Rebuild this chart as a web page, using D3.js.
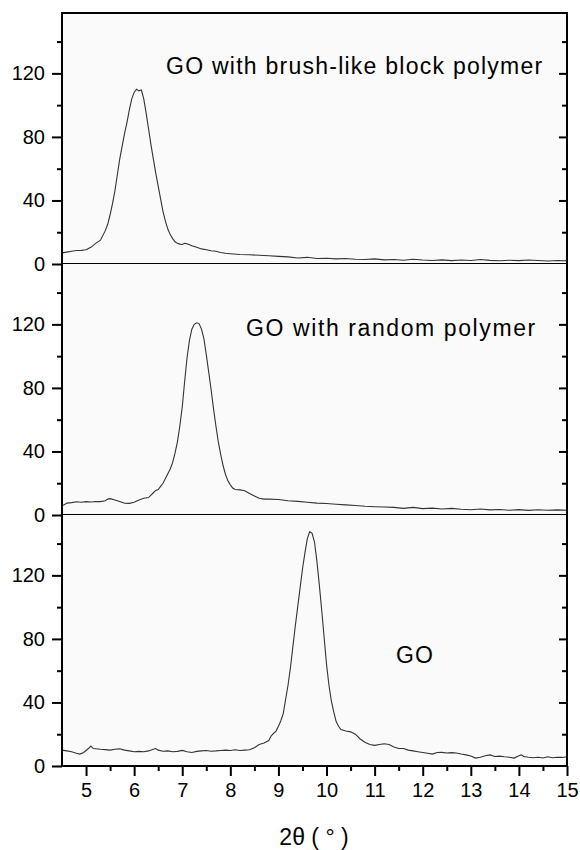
<!DOCTYPE html>
<html>
<head>
<meta charset="utf-8">
<script src="https://cdn.jsdelivr.net/npm/d3@7"></script>
<style>
html,body{margin:0;padding:0;background:#fff;}
svg{display:block;}
</style>
</head>
<body>
<svg id="chart" width="580" height="850"></svg>
<script>
// ---------- DATA ----------
const panelLabels = ["GO with brush-like block polymer", "GO with random polymer", "GO"];
const yMajorTicks = [0, 40, 80, 120];
const yMinorTicks = [20, 60, 100, 140];
const xMajorTicks = [5, 6, 7, 8, 9, 10, 11, 12, 13, 14, 15];
const xMinorTicks = [5.5, 6.5, 7.5, 8.5, 9.5, 10.5, 11.5, 12.5, 13.5, 14.5];
const xTitle = "2θ ( ° )";

const xBrush = [4.5,4.6,4.7,4.8,4.9,5.0,5.1,5.2,5.3,5.4,5.45,5.5,5.55,5.6,5.65,5.7,5.75,5.8,5.85,5.9,5.95,6.0,6.05,6.1,6.15,6.2,6.25,6.3,6.35,6.4,6.45,6.5,6.55,6.6,6.65,6.7,6.75,6.8,6.85,6.9,6.95,7.0,7.05,7.1,7.2,7.3,7.4,7.5,7.6,7.7,7.8,7.9,8.0,8.2,8.4,8.6,8.8,9.0,9.2,9.4,9.6,9.8,10.0,10.2,10.4,10.6,10.8,11.0,11.2,11.4,11.6,11.8,12.0,12.2,12.4,12.6,12.8,13.0,13.2,13.4,13.6,13.8,14.0,14.2,14.4,14.6,14.8,15.0];
const yBrush = [7,7.5,8,8.5,8.6,9,10.5,13,15,21,25,31,38,46,56,66,74,82,89,97,104,108,110,109,109.5,104,95,85,75,66,57,49,41,33,27,22,18.5,16,14,13,12.5,12.3,13,12.8,11.5,10.5,9.5,9,8.3,8,7.2,6.8,6.5,6,5.8,5.5,5.2,4.8,4.5,3.8,4.2,3.5,3.6,3.2,3.5,3,2.8,3.2,2.6,2.8,2.4,3,2.5,2.2,2.6,2.1,2.5,2.2,2.8,2.3,2,2.4,2.1,2.5,2.2,1.9,2.2,2];

const xRandom = [4.5,4.55,4.6,4.7,4.8,4.9,5.0,5.1,5.2,5.3,5.4,5.45,5.5,5.6,5.7,5.8,5.9,6.0,6.1,6.2,6.3,6.35,6.4,6.45,6.5,6.55,6.6,6.65,6.7,6.75,6.8,6.85,6.9,6.95,7.0,7.05,7.1,7.15,7.2,7.25,7.3,7.35,7.4,7.45,7.5,7.55,7.6,7.65,7.7,7.75,7.8,7.85,7.9,7.95,8.0,8.05,8.1,8.2,8.3,8.4,8.5,8.6,8.7,8.8,9.0,9.2,9.4,9.6,9.8,10.0,10.2,10.4,10.6,10.8,11.0,11.2,11.4,11.6,11.8,12.0,12.2,12.4,12.6,12.8,13.0,13.2,13.4,13.6,13.8,14.0,14.2,14.4,14.6,14.8,15.0];
const yRandom = [6,6.5,7.5,7.8,8.3,8,8.4,8.2,8.5,8.4,9,10,10.3,9.5,8.5,7.4,7.3,8,9.5,10.5,11,12.5,14,15.5,16,18,20,23,26,29,33,39,46,56,68,84,99,110,117,120,121,120.5,117,111,101,90,79,67,56,46,38,31,25.5,21.5,19,17,16,15.8,15.3,13.5,12,10.5,10,10,9.8,9,8.6,8,7.5,7.2,6.8,6.4,6,5.5,5.2,5,4.8,4.2,4.8,4,4.3,3.8,4.2,3.6,3.3,3.8,3.2,3.5,3,3.4,2.9,3.3,3,3.2,3];

const xGO = [4.5,4.6,4.7,4.8,4.87,4.95,5.05,5.1,5.15,5.3,5.4,5.5,5.6,5.7,5.8,5.9,6.0,6.1,6.2,6.3,6.4,6.45,6.5,6.6,6.7,6.8,6.9,7.0,7.1,7.2,7.3,7.4,7.5,7.6,7.7,7.8,7.9,8.0,8.1,8.2,8.3,8.4,8.5,8.6,8.7,8.8,8.85,8.9,8.95,9.0,9.05,9.1,9.15,9.2,9.25,9.3,9.35,9.4,9.45,9.5,9.55,9.6,9.65,9.7,9.75,9.8,9.85,9.9,9.95,10.0,10.05,10.1,10.15,10.2,10.25,10.3,10.4,10.5,10.6,10.7,10.8,10.9,11.0,11.1,11.2,11.3,11.4,11.5,11.6,11.7,11.8,11.9,12.0,12.1,12.2,12.3,12.4,12.5,12.6,12.7,12.8,12.9,13.0,13.1,13.2,13.3,13.4,13.5,13.6,13.7,13.8,13.9,14.0,14.05,14.1,14.2,14.3,14.4,14.5,14.6,14.7,14.8,14.9,15.0];
const yGO = [10,9.5,9,8,7.5,8.5,11,12.5,11,10.5,10.3,10,10.5,10.8,10,9.5,9,9.2,9,9.5,10.5,11,10,9.3,9.5,9,9.2,9.8,9,8.5,9.2,9.5,9.8,9.3,9.5,9.8,10,9.8,10.2,9.8,10,10.2,11.5,13.5,14.5,16,19,20.5,22,25,28.5,33,42,51,62,75,88,100,112,124,134,143,147.5,146.5,141,129,114,98,81,64,51,41,34,28,25,23,22,21.5,20,17,15,13.5,13,13.5,14,13.5,12,11,11,10,9.5,9,8.5,8,7.5,8.5,8.6,8.2,8.4,8.2,7.5,7,6.3,5,5.5,6.5,7,6,6.2,5.8,5.5,5,6.5,7,6,5.5,5.2,5.5,5,5.8,5.2,5.5,5.4,5.8];

const seriesX = [xBrush, xRandom, xGO];
const seriesY = [yBrush, yRandom, yGO];

// ---------- LAYOUT ----------
const plotLeft = 62, plotRight = 567, plotTop = 13, panelH = 251;
const labelPos = [{x:166, y:74}, {x:246, y:336}, {x:396, y:663}];
const labelSpacing = ["1.25px", "1.6px", "1px"];

const svg = d3.select("#chart");
const x = d3.scaleLinear().domain([4.5, 15]).range([plotLeft, plotRight]);

const tickFont = "'Liberation Sans', Arial, sans-serif";

for (let i = 0; i < 3; i++) {
  const pTop = plotTop + i * panelH;
  const pBot = pTop + panelH;
  const y = d3.scaleLinear().domain([0, 158]).range([pBot, pTop]);
  const g = svg.append("g");

  g.append("rect").attr("x", plotLeft).attr("y", pTop).attr("width", plotRight - plotLeft).attr("height", panelH)
    .attr("fill", "#fafafa");

  const pts = seriesX[i].map((v, k) => [v, seriesY[i][k]]);
  g.append("path").datum(pts)
    .attr("d", d3.line().x(d => x(d[0])).y(d => y(d[1])))
    .attr("fill", "none").attr("stroke", "#333").attr("stroke-width", 1.1);

  const la = g.append("g").attr("transform", `translate(${plotLeft},0)`)
    .call(d3.axisLeft(y).tickValues(yMajorTicks).tickSize(10).tickPadding(7).tickFormat(d3.format("d")));
  la.select(".domain").remove();
  la.selectAll("line").attr("stroke", "#000").attr("stroke-width", 2);
  la.selectAll("text").attr("font-family", tickFont).attr("font-size", 20).attr("fill", "#000");
  const lm = g.append("g").attr("transform", `translate(${plotLeft},0)`)
    .call(d3.axisLeft(y).tickValues(yMinorTicks).tickSize(5).tickFormat(""));
  lm.select(".domain").remove();
  lm.selectAll("line").attr("stroke", "#000").attr("stroke-width", 2);

  const ra = g.append("g").attr("transform", `translate(${plotRight},0)`)
    .call(d3.axisLeft(y).tickValues(yMajorTicks.filter(v => v > 0)).tickSize(8).tickFormat(""));
  ra.select(".domain").remove();
  ra.selectAll("line").attr("stroke", "#000").attr("stroke-width", 2);
  const rm = g.append("g").attr("transform", `translate(${plotRight},0)`)
    .call(d3.axisLeft(y).tickValues(yMinorTicks).tickSize(5).tickFormat(""));
  rm.select(".domain").remove();
  rm.selectAll("line").attr("stroke", "#000").attr("stroke-width", 2);

  g.append("text").attr("x", labelPos[i].x).attr("y", labelPos[i].y)
    .attr("font-family", tickFont).attr("font-size", 23).attr("letter-spacing", labelSpacing[i])
    .attr("fill", "#000").text(panelLabels[i]);

  g.append("line").attr("x1", plotLeft).attr("x2", plotRight).attr("y1", pBot).attr("y2", pBot)
    .attr("stroke", "#000").attr("stroke-width", 2);
}

svg.append("rect").attr("x", plotLeft).attr("y", plotTop).attr("width", plotRight - plotLeft).attr("height", panelH * 3)
  .attr("fill", "none").attr("stroke", "#000").attr("stroke-width", 2);

const bottomY = plotTop + 3 * panelH;
const ba = svg.append("g").attr("transform", `translate(0,${bottomY})`)
  .call(d3.axisBottom(x).tickValues(xMajorTicks).tickSize(10).tickPadding(7).tickFormat(d3.format("d")));
ba.select(".domain").remove();
ba.selectAll("line").attr("stroke", "#000").attr("stroke-width", 2);
ba.selectAll("text").attr("font-family", tickFont).attr("font-size", 20).attr("fill", "#000");
const bm = svg.append("g").attr("transform", `translate(0,${bottomY})`)
  .call(d3.axisBottom(x).tickValues(xMinorTicks).tickSize(5).tickFormat(""));
bm.select(".domain").remove();
bm.selectAll("line").attr("stroke", "#000").attr("stroke-width", 2);

svg.append("text").attr("x", 314).attr("y", 845).attr("text-anchor", "middle")
  .attr("font-family", tickFont).attr("font-size", 23).attr("fill", "#000")
  .text(xTitle);
</script>
</body>
</html>
